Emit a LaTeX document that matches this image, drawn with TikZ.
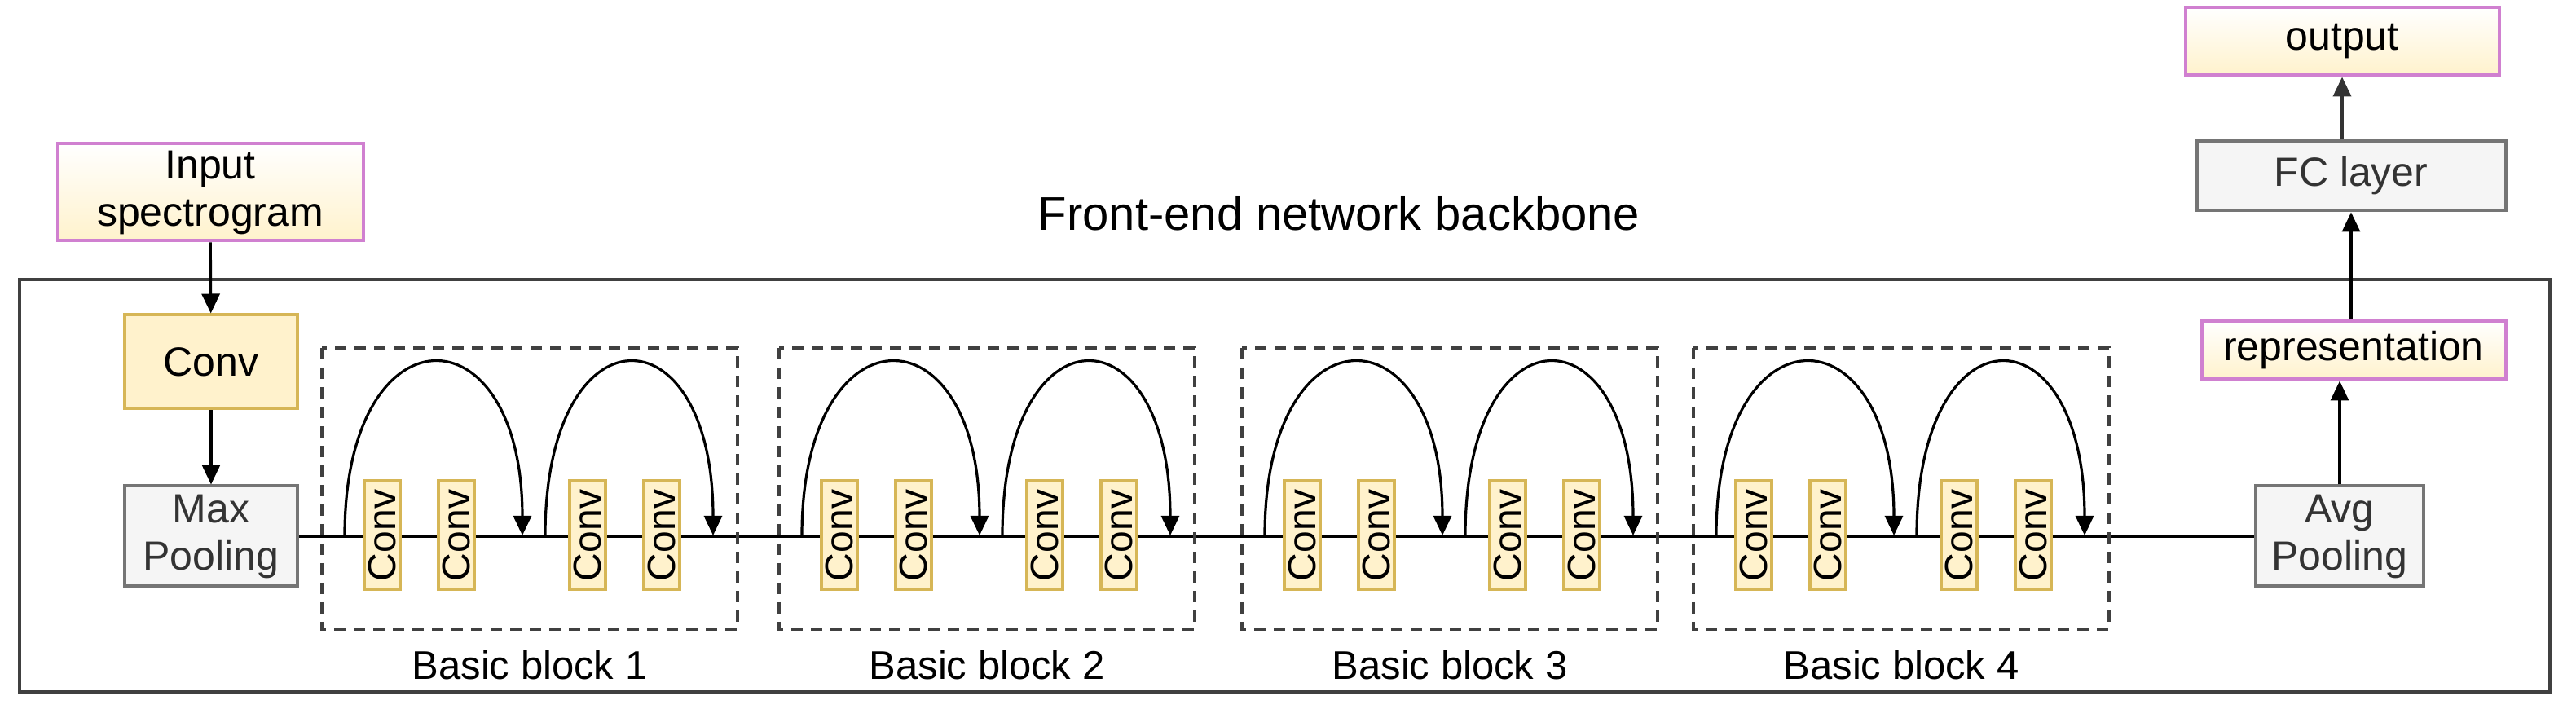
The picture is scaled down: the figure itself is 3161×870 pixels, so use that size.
\documentclass[tikz,border=0pt]{standalone}
\usepackage{fontspec}
\setmainfont{Liberation Sans}
\usetikzlibrary{arrows.meta,shadings}
\definecolor{yf}{HTML}{FFF2CC}
\definecolor{ys}{HTML}{D6B656}
\definecolor{gf}{HTML}{F5F5F5}
\definecolor{gs}{HTML}{666666}
\definecolor{ps}{HTML}{D080D0}
\begin{document}
\begin{tikzpicture}[x=0.5pt,y=-0.5pt,
  ybox/.style={draw=ys,fill=yf,line width=2pt,inner sep=0pt,font=\fontsize{25}{29}\selectfont},
  gbox/.style={draw=gs!90,fill=gf,line width=2pt,inner sep=0pt,text=black!80,align=center,font=\fontsize{25}{29}\selectfont},
  pbox/.style={draw=ps,top color=white,bottom color=yf,line width=2pt,inner sep=0pt,align=center,font=\fontsize{25}{29}\selectfont},
  sconv/.style={ybox,minimum width=22pt,minimum height=66.5pt,font=\fontsize{24}{26}\selectfont},
  arr/.style={-{Triangle[length=12pt,width=11pt]},line width=1.6pt},
  lbl/.style={font=\fontsize{24.5}{28}\selectfont}]
\useasboundingbox (0,0) rectangle (3161,870);
\draw[black!75,line width=2pt] (24,343) rectangle (3129,849);
\node[font=\fontsize{29}{34}\selectfont] (title) at (1643,262) {Front-end network backbone};
\node[pbox,minimum width=187.5pt,minimum height=59.5pt] (in) at (258,236) {Input\\spectrogram};
\node[ybox,minimum width=106pt,minimum height=57.5pt] (conv) at (259,444) {Conv};
\node[gbox,minimum width=106pt,minimum height=61.5pt] (mp) at (259,658) {Max\\Pooling};
\node[gbox,minimum width=103pt,minimum height=61.5pt] (ap) at (2871,658) {Avg\\Pooling};
\node[pbox,minimum width=186.5pt,minimum height=35.5pt] (rep) at (2888,430) {representation};
\node[gbox,minimum width=189.5pt,minimum height=42.5pt] (fc) at (2885,216) {FC layer};
\node[pbox,minimum width=192.5pt,minimum height=41.5pt] (out) at (2874,51) {output};
\draw[arr] (in) -- (conv);
\draw[arr] (conv) -- (mp);
\draw[line width=2pt] (mp.east) -- (ap.west);
\draw[arr] (ap) -- (ap|-rep.south);
\draw[arr] (rep.north-|fc) -- (fc);
\draw[arr,line width=2pt,black!80] (fc.north-|out) -- (out);
\foreach \L/\k in {395/1,956/2,1524/3,2078/4}{
  \draw[black!75,line width=1.8pt,dash pattern=on 7pt off 5pt] (\L,427) rectangle (\L+510,772);
  \node[lbl] (bl\k) at (\L+255,816) {Basic block \k};
  \foreach \dx/\j in {52/a,143/b,304/c,395/d}{
    \node[sconv] (c\k\j) at (\L+\dx+22,657) {\rotatebox{90}{Conv}};
  }
  \coordinate (s\k a) at (\L+28,657);
  \coordinate (e\k a) at (\L+246,657);
  \coordinate (s\k b) at (\L+274,657);
  \coordinate (e\k b) at (\L+480,657);
  \draw[arr] (s\k a) .. controls (\L+28,375) and (\L+246,375) .. (e\k a);
  \draw[arr] (s\k b) .. controls (\L+274,375) and (\L+480,375) .. (e\k b);
}
\end{tikzpicture}
\end{document}
